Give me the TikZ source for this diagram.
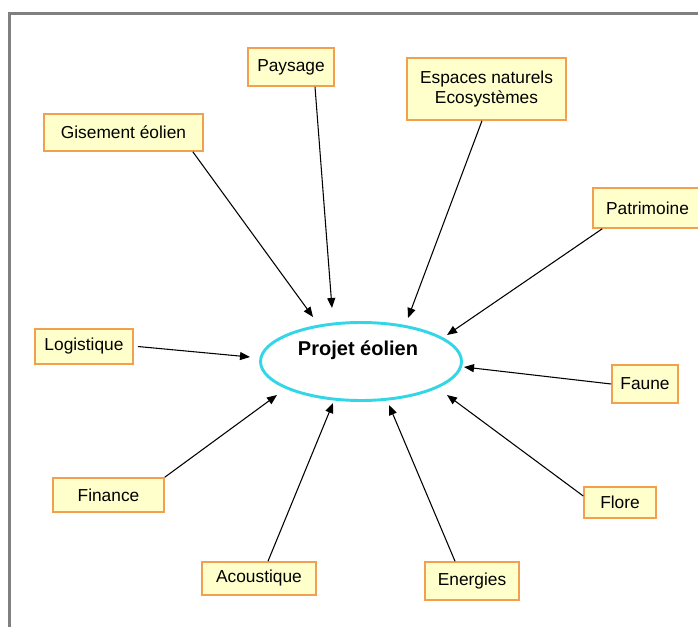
\documentclass[tikz,border=0pt]{standalone}
\usepackage{fontspec}
\setmainfont{Liberation Sans}
\usetikzlibrary{shapes.geometric,arrows.meta}
\definecolor{boxfill}{RGB}{255,255,204}
\definecolor{boxline}{RGB}{242,160,80}
\definecolor{ellline}{RGB}{51,214,230}
\definecolor{framec}{RGB}{128,128,128}
\begin{document}
\begin{tikzpicture}[x=0.75pt,y=-0.75pt,
  topic/.style={draw=boxline,fill=boxfill,line width=1.2pt,inner sep=0pt,
    font=\fontsize{13}{15}\selectfont,align=center},
  link/.style={line width=0.8pt,-{Triangle[length=7.5pt,width=6pt]}}]
\useasboundingbox (0,0) rectangle (698,627);
\draw[framec,line width=1.6pt] (9.5,627) -- (9.5,13.5) -- (698,13.5);
% central ellipse
\node[ellipse,draw=ellline,line width=2.2pt,inner sep=0pt,
  minimum width=150.75pt,minimum height=58.5pt] (proj) at (361,361.5) {};
\node[font=\fontsize{15}{18}\selectfont\bfseries] (projlbl) at (358,350) {Projet éolien};
% topics
\node[topic,minimum width=119.25pt,minimum height=27.75pt] (gis) at (123.5,132.5) {Gisement éolien};
\node[topic,minimum width=64.5pt,minimum height=28.5pt] (pay) at (291,67) {Paysage};
\node[topic,minimum width=119.25pt,minimum height=46.5pt] (esp) at (486.5,89) {Espaces naturels\\Ecosystèmes};
\node[topic,minimum width=81.75pt,minimum height=30pt] (pat) at (647.5,208) {Patrimoine};
\node[topic,minimum width=49.5pt,minimum height=28.5pt] (fau) at (645,384) {Faune};
\node[topic,minimum width=54pt,minimum height=23.25pt] (flo) at (620,502.5) {Flore};
\node[topic,minimum width=70.5pt,minimum height=28.5pt] (ene) at (472,581) {Energies};
\node[topic,minimum width=85.5pt,minimum height=24.75pt] (aco) at (259,578.5) {Acoustique};
\node[topic,minimum width=83.25pt,minimum height=25.5pt] (fin) at (108.5,495) {Finance};
\node[topic,minimum width=73.5pt,minimum height=26.25pt] (log) at (84,346.5) {Logistique};
% arrow tips near the ellipse
\coordinate (tgis) at (313,317);
\coordinate (tpay) at (332,308);
\coordinate (tesp) at (408,318);
\coordinate (tpat) at (447,335);
\coordinate (tfau) at (464,367);
\coordinate (tflo) at (447,395);
\coordinate (tene) at (389,405);
\coordinate (taco) at (333,403);
\coordinate (tfin) at (277,395);
\coordinate (tlog) at (250,357);
% connectors
\draw[link] ([xshift=52pt]gis.south) -- (tgis);
\draw[link] ([xshift=18pt]pay.south) -- (tpay);
\draw[link] ([xshift=-3.4pt]esp.south) -- (tesp);
\draw[link] ([xshift=7.5pt]pat.south west) -- (tpat);
\draw[link] (fau.west) -- (tfau);
\draw[link] ([yshift=4.9pt]flo.west) -- (tflo);
\draw[link] ([xshift=-12.75pt]ene.north) -- (tene);
\draw[link] ([xshift=6.75pt]aco.north) -- (taco);
\draw[link] (fin.north east) -- (tfin);
\draw[link] ([xshift=3pt]log.east) -- (tlog);
\end{tikzpicture}
\end{document}
